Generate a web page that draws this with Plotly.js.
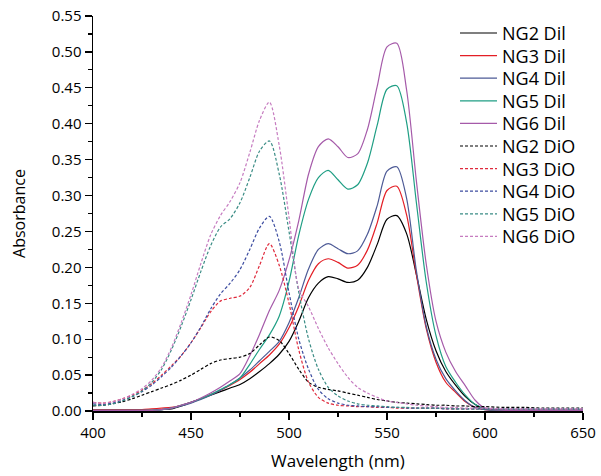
<!DOCTYPE html>
<html>
<head>
<meta charset="utf-8">
<script src="https://cdn.plot.ly/plotly-3.0.1.min.js"></script>
<style>html,body{margin:0;padding:0;background:#fff;}#chart{width:601px;height:476px;}</style>
</head>
<body>
<div id="chart"></div>
<script>
// Wavelength grid (nm)
const wavelength = [400,405,410,415,420,425,430,435,440,445,450,455,460,465,470,475,480,485,490,495,500,505,510,515,520,525,530,535,540,545,550,555,560,565,570,575,580,585,590,595,600,610,620,630,640,650];

// DiI absorbance (solid)
const ng2Dil = [0.001,0.001,0.001,0.001,0.001,0.001,0.001,0.002,0.003,0.007,0.012,0.017,0.022,0.027,0.032,0.037,0.045,0.055,0.066,0.079,0.097,0.125,0.158,0.178,0.187,0.184,0.179,0.182,0.200,0.232,0.267,0.272,0.247,0.190,0.128,0.084,0.055,0.036,0.020,0.009,0.003,0.001,0.001,0.001,0.001,0.001];
const ng3Dil = [0.002,0.002,0.002,0.002,0.002,0.002,0.003,0.004,0.005,0.008,0.012,0.017,0.023,0.029,0.036,0.044,0.054,0.066,0.078,0.093,0.116,0.146,0.182,0.205,0.212,0.207,0.199,0.203,0.224,0.262,0.307,0.313,0.273,0.190,0.115,0.068,0.040,0.026,0.013,0.005,0.002,0.001,0.001,0.001,0.001,0.001];
const ng4Dil = [0.001,0.001,0.001,0.001,0.001,0.001,0.001,0.002,0.004,0.007,0.011,0.016,0.022,0.029,0.037,0.046,0.057,0.070,0.083,0.097,0.123,0.158,0.198,0.225,0.233,0.226,0.219,0.223,0.246,0.286,0.334,0.340,0.296,0.195,0.118,0.072,0.045,0.028,0.014,0.005,0.002,0.001,0.001,0.001,0.001,0.001];
const ng5Dil = [0.001,0.001,0.001,0.001,0.001,0.001,0.001,0.002,0.004,0.008,0.012,0.017,0.023,0.030,0.037,0.046,0.065,0.086,0.106,0.132,0.180,0.245,0.295,0.325,0.335,0.322,0.309,0.315,0.345,0.398,0.448,0.453,0.402,0.290,0.180,0.105,0.062,0.040,0.022,0.009,0.003,0.001,0.001,0.001,0.001,0.001];
const ng6Dil = [0.001,0.001,0.001,0.001,0.001,0.001,0.001,0.002,0.004,0.008,0.012,0.018,0.025,0.033,0.042,0.052,0.077,0.107,0.140,0.168,0.210,0.265,0.330,0.368,0.379,0.368,0.353,0.358,0.392,0.452,0.507,0.512,0.447,0.320,0.205,0.125,0.082,0.055,0.035,0.015,0.004,0.001,0.001,0.001,0.001,0.001];

// DiO absorbance (dashed)
const ng2DiO = [0.007,0.008,0.010,0.013,0.017,0.022,0.027,0.032,0.037,0.043,0.050,0.058,0.066,0.071,0.073,0.075,0.080,0.092,0.103,0.098,0.080,0.058,0.040,0.033,0.030,0.028,0.025,0.022,0.019,0.016,0.014,0.012,0.011,0.010,0.009,0.008,0.008,0.007,0.007,0.006,0.006,0.005,0.005,0.004,0.004,0.004];
const ng3DiO = [0.012,0.011,0.013,0.017,0.022,0.029,0.038,0.050,0.063,0.077,0.095,0.116,0.138,0.153,0.157,0.160,0.172,0.203,0.233,0.203,0.150,0.085,0.040,0.019,0.011,0.008,0.007,0.006,0.006,0.005,0.005,0.004,0.004,0.004,0.004,0.004,0.003,0.003,0.003,0.003,0.003,0.003,0.003,0.003,0.003,0.003];
const ng4DiO = [0.010,0.009,0.011,0.015,0.020,0.027,0.036,0.048,0.061,0.077,0.095,0.117,0.142,0.163,0.178,0.197,0.225,0.255,0.271,0.236,0.165,0.100,0.058,0.030,0.017,0.011,0.008,0.007,0.006,0.006,0.005,0.005,0.004,0.004,0.004,0.004,0.003,0.003,0.003,0.003,0.003,0.003,0.003,0.003,0.003,0.003];
const ng5DiO = [0.008,0.008,0.010,0.014,0.020,0.028,0.040,0.058,0.085,0.118,0.155,0.194,0.230,0.256,0.268,0.290,0.325,0.362,0.376,0.330,0.250,0.165,0.100,0.058,0.033,0.021,0.014,0.010,0.008,0.007,0.006,0.005,0.005,0.004,0.004,0.004,0.004,0.003,0.003,0.003,0.003,0.003,0.003,0.003,0.003,0.003];
const ng6DiO = [0.012,0.011,0.013,0.017,0.023,0.031,0.043,0.061,0.088,0.123,0.162,0.205,0.245,0.272,0.292,0.318,0.360,0.405,0.430,0.370,0.270,0.170,0.145,0.115,0.088,0.066,0.047,0.033,0.025,0.019,0.014,0.012,0.010,0.008,0.007,0.006,0.005,0.005,0.004,0.004,0.004,0.003,0.003,0.003,0.003,0.003];

const seriesNames = ['NG2 Dil','NG3 Dil','NG4 Dil','NG5 Dil','NG6 Dil','NG2 DiO','NG3 DiO','NG4 DiO','NG5 DiO','NG6 DiO'];
const seriesValues = [ng2Dil, ng3Dil, ng4Dil, ng5Dil, ng6Dil, ng2DiO, ng3DiO, ng4DiO, ng5DiO, ng6DiO];
const seriesColors = ['#000000','#e31e25','#4d5a96','#1f9e84','#a55aa9','#000000','#df2a3c','#3c4ca0','#3a8c85','#c67cc0'];
const seriesDash = ['solid','solid','solid','solid','solid','3px,2px','3px,2px','3px,2px','3px,2px','3px,2px'];

const FONT = '"Open Sans", "Noto Sans", sans-serif';
const W = 601, H = 476, M = {l: 93, r: 18, t: 16, b: 65};
const plotH = H - M.t - M.b, plotW = W - M.l - M.r;

const legendId = i => (i === 0 ? 'legend' : 'legend' + (i + 1));

const traces = seriesNames.map((name, i) => ({
  type: 'scatter',
  mode: 'lines',
  name: name,
  legend: legendId(i),
  x: wavelength,
  y: seriesValues[i],
  line: {color: seriesColors[i], width: 1.2, dash: seriesDash[i], shape: 'spline', smoothing: 0.8}
}));

const layout = {
  width: W, height: H,
  margin: M,
  paper_bgcolor: '#ffffff', plot_bgcolor: '#ffffff',
  font: {family: FONT, color: '#000000', size: 15},
  showlegend: true,
  xaxis: {
    range: [400, 650], showgrid: false, zeroline: false,
    showline: true, linecolor: '#000000', linewidth: 1.5,
    ticks: 'outside', ticklen: 7, tickwidth: 1.3, tickcolor: '#000000',
    tick0: 400, dtick: 50,
    minor: {ticks: 'outside', ticklen: 4, tickwidth: 1.2, tickcolor: '#000000', dtick: 25, showgrid: false},
    tickfont: {family: FONT, size: 15, color: '#000000'},
    title: {text: 'Wavelength (nm)', font: {family: FONT, size: 17, color: '#000000'}, standoff: 14},
    fixedrange: true
  },
  yaxis: {
    range: [0, 0.55], showgrid: false, zeroline: false,
    showline: true, linecolor: '#000000', linewidth: 1.5,
    ticks: 'outside', ticklen: 7, tickwidth: 1.3, tickcolor: '#000000',
    tick0: 0, dtick: 0.05, tickformat: '.2f',
    minor: {ticks: 'outside', ticklen: 4, tickwidth: 1.2, tickcolor: '#000000', dtick: 0.025, showgrid: false},
    tickfont: {family: FONT, size: 15, color: '#000000'},
    title: {text: 'Absorbance', font: {family: FONT, size: 16, color: '#000000'}, standoff: 22},
    fixedrange: true
  }
};

// one legend box per entry so the row spacing matches the original
const legendLeftPx = 455, legendRow0 = 33.3, legendRowStep = 22.6;
seriesNames.forEach((n, i) => {
  layout[legendId(i)] = {
    x: (legendLeftPx - M.l) / plotW,
    y: 1 - (legendRow0 + legendRowStep * i - M.t) / plotH,
    xanchor: 'left', yanchor: 'middle',
    bgcolor: 'rgba(0,0,0,0)', borderwidth: 0,
    font: {family: FONT, size: 18, color: '#000000'},
    itemwidth: 37
  };
});

Plotly.newPlot('chart', traces, layout, {displayModeBar: false, staticPlot: true});
</script>
</body>
</html>
